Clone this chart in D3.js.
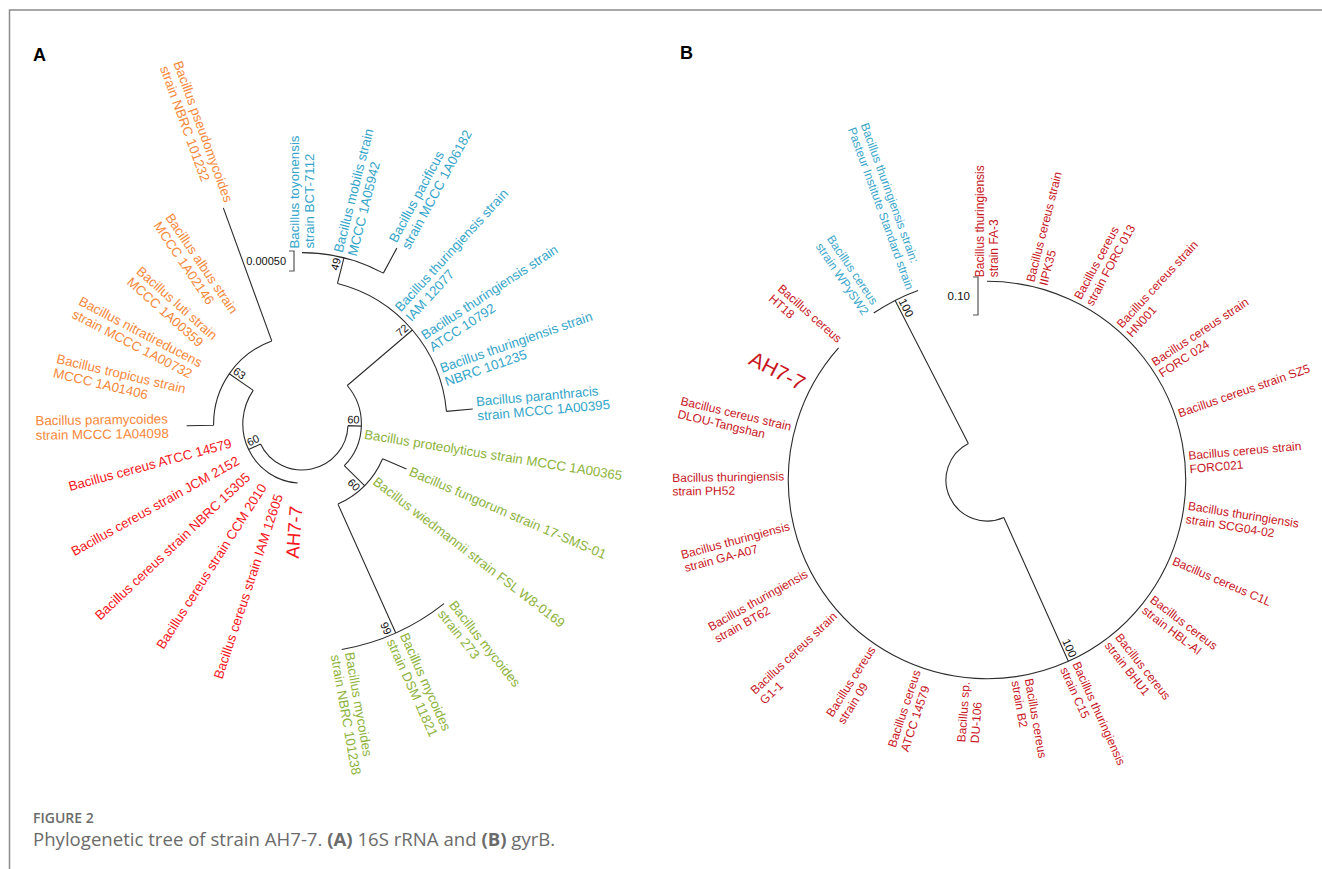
<!DOCTYPE html>
<html><head><meta charset="utf-8">
<script src="https://cdn.jsdelivr.net/npm/d3@7"></script>
<style>
body{margin:0;background:#fff;}
svg{display:block;font-family:"Liberation Sans",Arial,sans-serif;}
</style></head><body>
<svg id="fig" width="1322" height="869"></svg>
<script>
// ---------- Panel A: 16S rRNA tree ----------
// [node, parent, branch length (subst./site), bootstrap]
const edgesA = [
  ["R", "root", 0.000335, 60],
  ["B72", "R", 0.00214, 72],
  ["N49", "B72", 0.00066, 49],
  ["toyonensis", "N49", 0, null],
  ["mobilis", "N49", 0, null],
  ["pacificus", "N49", 0.00071, null],
  ["thuIAM", "B72", 0, null],
  ["thuATCC", "B72", 0, null],
  ["thuNBRC", "B72", 0, null],
  ["paranthracis", "B72", 0.00066, null],
  ["proteolyticus", "R", 0, null],
  ["G60", "R", 0.00071, 60],
  ["fungorum", "G60", 0.00065, null],
  ["wiedmannii", "G60", 0, null],
  ["N99", "G60", 0.00353, 99],
  ["myc273", "N99", 0, null],
  ["mycDSM", "N99", 0, null],
  ["mycNBRC", "N99", 0, null],
  ["L", "root", 0.00033, 60],
  ["AH7-7", "L", 0, null],
  ["cerIAM", "L", 0, null],
  ["cerCCM", "L", 0, null],
  ["cerNBRC", "L", 0, null],
  ["cerJCM", "L", 0, null],
  ["cerATCC", "L", 0, null],
  ["O63", "L", 0.00073, 63],
  ["paramycoides", "O63", 0.000675, null],
  ["tropicus", "O63", 0, null],
  ["nitratireducens", "O63", 0, null],
  ["luti", "O63", 0, null],
  ["albus", "O63", 0, null],
  ["pseudomycoides", "O63", 0.00354, null]
];
const labelsA = {
  toyonensis: ["Bacillus toyonensis", "strain BCT-7112"],
  mobilis: ["Bacillus mobilis strain", "MCCC 1A05942"],
  pacificus: ["Bacillus pacificus", "strain MCCC 1A06182"],
  thuIAM: ["Bacillus thuringiensis strain", "IAM 12077"],
  thuATCC: ["Bacillus thuringiensis strain", "ATCC 10792"],
  thuNBRC: ["Bacillus thuringiensis strain", "NBRC 101235"],
  paranthracis: ["Bacillus paranthracis", "strain MCCC 1A00395"],
  proteolyticus: ["Bacillus proteolyticus strain MCCC 1A00365"],
  fungorum: ["Bacillus fungorum strain 17-SMS-01"],
  wiedmannii: ["Bacillus wiedmannii strain FSL W8-0169"],
  myc273: ["Bacillus mycoides", "strain 273"],
  mycDSM: ["Bacillus mycoides", "strain DSM 11821"],
  mycNBRC: ["Bacillus mycoides", "strain NBRC 101238"],
  "AH7-7": ["AH7-7"],
  cerIAM: ["Bacillus cereus strain IAM 12605"],
  cerCCM: ["Bacillus cereus strain CCM 2010"],
  cerNBRC: ["Bacillus cereus strain NBRC 15305"],
  cerJCM: ["Bacillus cereus strain JCM 2152"],
  cerATCC: ["Bacillus cereus ATCC 14579"],
  paramycoides: ["Bacillus paramycoides", "strain MCCC 1A04098"],
  tropicus: ["Bacillus tropicus strain", "MCCC 1A01406"],
  nitratireducens: ["Bacillus nitratireducens", "strain MCCC 1A00732"],
  luti: ["Bacillus luti strain", "MCCC 1A00359"],
  albus: ["Bacillus albus strain", "MCCC 1A02146"],
  pseudomycoides: ["Bacillus pseudomycoides", "strain NBRC 101232"]
};
// species groups used for label colours
const blueA = ["toyonensis", "mobilis", "pacificus", "thuIAM", "thuATCC", "thuNBRC", "paranthracis"];
const greenA = ["proteolyticus", "fungorum", "wiedmannii", "myc273", "mycDSM", "mycNBRC"];
const redA = ["AH7-7", "cerIAM", "cerCCM", "cerNBRC", "cerJCM", "cerATCC"];
const orangeA = ["paramycoides", "tropicus", "nitratireducens", "luti", "albus", "pseudomycoides"];

// ---------- Panel B: gyrB tree ----------
const edgesB = [
  ["RED", "root", 0.415, 100],
  ["FA-3", "RED", 0, null],
  ["IIPK35", "RED", 0, null],
  ["FORC013", "RED", 0, null],
  ["HN001", "RED", 0, null],
  ["FORC024", "RED", 0, null],
  ["SZ5", "RED", 0, null],
  ["FORC021", "RED", 0, null],
  ["SCG04-02", "RED", 0, null],
  ["C1L", "RED", 0, null],
  ["HBL-AI", "RED", 0, null],
  ["BHU1", "RED", 0, null],
  ["C15", "RED", 0, null],
  ["B2", "RED", 0, null],
  ["DU-106", "RED", 0, null],
  ["ATCC14579", "RED", 0, null],
  ["s09", "RED", 0, null],
  ["G1-1", "RED", 0, null],
  ["BT62", "RED", 0, null],
  ["GA-A07", "RED", 0, null],
  ["PH52", "RED", 0, null],
  ["DLOU", "RED", 0, null],
  ["AH7-7", "RED", 0, null],
  ["HT18", "RED", 0, null],
  ["BLUE", "root", 0.423, 100],
  ["WPySW2", "BLUE", 0, null],
  ["Pasteur", "BLUE", 0, null]
];
const labelsB = {
  "FA-3": ["Bacillus thuringiensis", "strain FA-3"],
  IIPK35: ["Bacillus cereus strain", "IIPK35"],
  FORC013: ["Bacillus cereus", "strain FORC 013"],
  HN001: ["Bacillus cereus strain", "HN001"],
  FORC024: ["Bacillus cereus strain", "FORC 024"],
  SZ5: ["Bacillus cereus strain SZ5"],
  FORC021: ["Bacillus cereus strain", "FORC021"],
  "SCG04-02": ["Bacillus thuringiensis", "strain SCG04-02"],
  C1L: ["Bacillus cereus C1L"],
  "HBL-AI": ["Bacillus cereus", "strain HBL-AI"],
  BHU1: ["Bacillus cereus", "strain BHU1"],
  C15: ["Bacillus thuringiensis", "strain C15"],
  B2: ["Bacillus cereus", "strain B2"],
  "DU-106": ["Bacillus sp.", "DU-106"],
  ATCC14579: ["Bacillus cereus", "ATCC 14579"],
  s09: ["Bacillus cereus", "strain 09"],
  "G1-1": ["Bacillus cereus strain", "G1-1"],
  BT62: ["Bacillus thuringiensis", "strain BT62"],
  "GA-A07": ["Bacillus thuringiensis", "strain GA-A07"],
  PH52: ["Bacillus thuringiensis", "strain PH52"],
  DLOU: ["Bacillus cereus strain", "DLOU-Tangshan"],
  "AH7-7": ["AH7-7"],
  HT18: ["Bacillus cereus", "HT18"],
  WPySW2: ["Bacillus cereus", "strain WPySW2"],
  Pasteur: ["Bacillus thuringiensis strain:", "Pasteur Institute Standard strain"]
};
const blueB = ["WPySW2", "Pasteur"];

const scaleBarA = { value: 0.0005, text: "0.00050" };
const scaleBarB = { value: 0.10, text: "0.10" };

// extra spacing between a tip and its label (px), where labels were set further out
const labelPadA = { albus: 42, luti: 34, nitratireducens: 29, tropicus: 33, paramycoides: 18,
  cerATCC: 14, cerJCM: 14, cerNBRC: 15, cerCCM: 13, cerIAM: 15, "AH7-7": 23 };

const svg = d3.select("#fig");
const rad = a => a * Math.PI / 180;
const pt = (r, a) => [r * Math.cos(rad(a)), r * Math.sin(rad(a))];
const isLeft = a => { const b = ((a % 360) + 540) % 360 - 180; return Math.abs(b) > 90.5; };

function buildTree(edges, opt) {
  const rows = [{ id: "root", parent: null, len: 0, boot: null }]
    .concat(edges.map(e => ({ id: e[0], parent: e[1], len: e[2], boot: e[3] })));
  const root = d3.stratify().id(d => d.id).parentId(d => d.parent)(rows);
  const angle = d3.scalePoint().domain(root.leaves().map(d => d.id)).range([opt.start, opt.start + opt.span]);
  const radius = d3.scaleLinear().domain([0, opt.unit]).range([0, opt.unitPx]);
  root.eachAfter(n => {
    n.angle = n.children
      ? (n.children[0].angle + n.children[n.children.length - 1].angle) / 2
      : angle(n.id);
  });
  root.eachBefore(n => { n.r = n.parent ? n.parent.r + radius(n.data.len) : opt.r0; });
  return { root, radius };
}

function drawTree(edges, labels, colorOf, opt) {
  const { root, radius } = buildTree(edges, opt);
  const g = svg.append("g").attr("transform", `translate(${opt.cx},${opt.cy})`);

  // branches: radial segments + node arcs
  const p = d3.path();
  root.descendants().forEach(n => {
    if (n.parent && n.r - n.parent.r > 0.05) {
      p.moveTo(...pt(n.parent.r, n.angle));
      p.lineTo(...pt(n.r, n.angle));
    }
    if (n.children) {
      const a0 = n.children[0].angle, a1 = n.children[n.children.length - 1].angle;
      p.moveTo(...pt(n.r, a0));
      p.arc(0, 0, n.r, rad(a0), rad(a1));
    }
  });
  g.append("path").attr("d", p.toString()).attr("fill", "none")
    .attr("stroke", "#2b2b2b").attr("stroke-width", 1.1);

  // bootstrap values, written along the branch just inside the node
  root.descendants().filter(n => n.data.boot != null).forEach(n => {
    const flip = isLeft(n.angle);
    const ccwSide = n.parent.children.indexOf(n) === 0; // away from the parent's arc
    const upInText = flip ? !ccwSide : ccwSide;
    g.append("text")
      .attr("transform", `rotate(${n.angle})` + (flip ? " rotate(180)" : ""))
      .attr("x", flip ? -(n.r - 2) : n.r - 2)
      .attr("y", upInText ? -2.5 : 2.5)
      .attr("dy", upInText ? "0" : "0.75em")
      .attr("text-anchor", flip ? "start" : "end")
      .attr("font-size", opt.bootSize).attr("fill", "#111")
      .text(n.data.boot);
  });

  // leaf labels
  root.leaves().forEach(n => {
    const lines = labels[n.id];
    const flip = isLeft(n.angle);
    const big = n.id === "AH7-7";
    const fs = big ? opt.bigSize : opt.fontSize;
    const gap = (opt.pad && opt.pad[n.id]) || (big ? opt.bigGap : opt.gap);
    const t = g.append("text")
      .attr("transform", `rotate(${n.angle}) translate(${n.r + gap},0)` + (flip ? " rotate(180)" : ""))
      .attr("fill", colorOf(n.id)).attr("font-size", fs);
    lines.forEach((s, i) => t.append("tspan").attr("x", 0)
      .attr("y", (i - (lines.length - 1) / 2) * opt.lineHeight)
      .attr("dy", "0.35em").text(s));
    if (flip) {
      const w = d3.max(t.selectAll("tspan").nodes(), e => e.getComputedTextLength());
      t.selectAll("tspan").attr("x", -w);
    }
  });

  // scale bar drawn as a bracket
  const len = radius(opt.bar.value);
  const sb = svg.append("g").attr("transform", `translate(${opt.barX},${opt.barY})`);
  sb.append("path").attr("d", `M-5,0H0V${len}H-5`).attr("fill", "none")
    .attr("stroke", "#555").attr("stroke-width", 1.2);
  sb.append("text").attr("x", -8).attr("y", len / 2).attr("dy", "0.35em")
    .attr("text-anchor", "end").attr("font-size", opt.barSize).attr("fill", "#111")
    .text(opt.bar.text);
}

const colorA = id => blueA.includes(id) ? "#34a5ca" : greenA.includes(id) ? "#8db33b"
  : redA.includes(id) ? "#f5161b" : orangeA.includes(id) ? "#f6883a" : "#000";
const colorB = id => blueB.includes(id) ? "#3aa6cb" : "#c8161e";

drawTree(edgesA, labelsA, colorA, {
  cx: 302, cy: 424, r0: 46, unit: 0.0005, unitPx: 20, start: -90, span: 340,
  fontSize: 13.3, lineHeight: 14.5, gap: 4, bigSize: 18.5, bigGap: 8, bootSize: 11,
  pad: labelPadA, bar: scaleBarA, barX: 294, barY: 251, barSize: 11
});
drawTree(edgesB, labelsB, colorB, {
  cx: 987, cy: 480, r0: 41, unit: 0.1, unitPx: 38, start: -90, span: 340,
  fontSize: 12, lineHeight: 13.5, gap: 4, bigSize: 21, bigGap: 8, bootSize: 11.5,
  bar: scaleBarB, barX: 978, barY: 277, barSize: 11.5
});

// frame and panel letters
svg.append("path").attr("d", "M1322,10H9.5V869").attr("fill", "none")
  .attr("stroke", "#8c8c8c").attr("stroke-width", 1.5);
svg.append("text").attr("x", 33).attr("y", 61).attr("font-size", 18).attr("font-weight", "bold").text("A");
svg.append("text").attr("x", 680).attr("y", 59).attr("font-size", 18).attr("font-weight", "bold").text("B");

// caption
const cap = svg.append("g").attr("font-family", "'Open Sans', sans-serif").attr("fill", "#6b6b6b");
cap.append("text").attr("x", 33).attr("y", 823).attr("font-size", 14).attr("font-weight", 600).text("FIGURE 2");
const ct = cap.append("text").attr("x", 33).attr("y", 846).attr("font-size", 18.6);
ct.append("tspan").text("Phylogenetic tree of strain AH7-7. ");
ct.append("tspan").attr("font-weight", 700).text("(A)");
ct.append("tspan").text(" 16S rRNA and ");
ct.append("tspan").attr("font-weight", 700).text("(B)");
ct.append("tspan").text(" gyrB.");
</script>
</body></html>
